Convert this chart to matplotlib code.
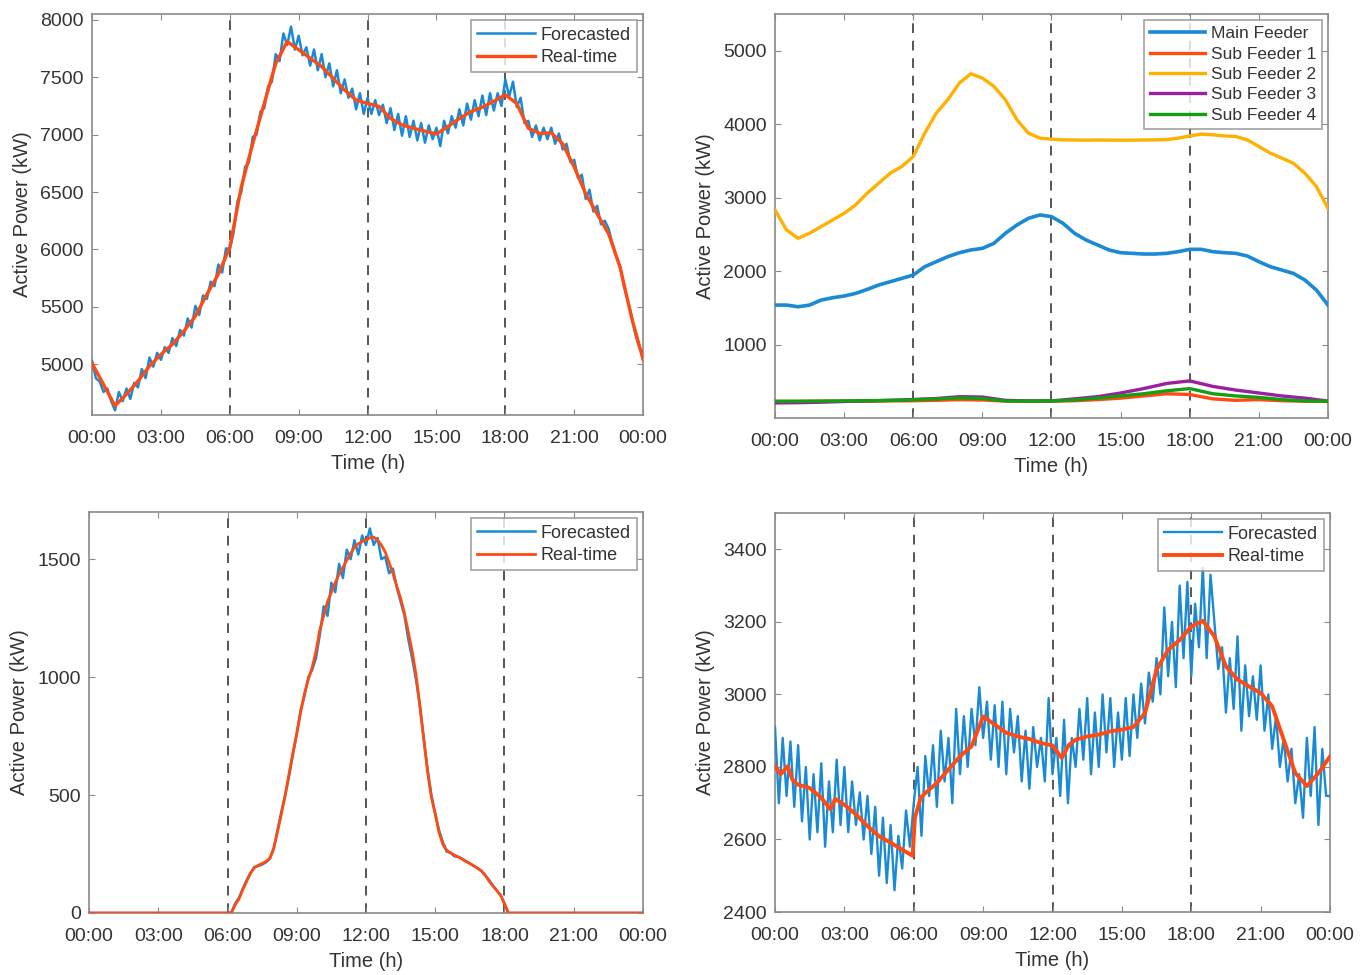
import numpy as np
import matplotlib
matplotlib.use("Agg")
import matplotlib.pyplot as plt

plt.rcParams["font.family"] = ["Liberation Sans", "DejaVu Sans"]

# ── shared x axis ────────────────────────────────────────────────────────────
tick_hours = [0, 3, 6, 9, 12, 15, 18, 21, 24]
tick_labels = ["00:00", "03:00", "06:00", "09:00", "12:00",
               "15:00", "18:00", "21:00", "00:00"]
marker_hours = [6, 12, 18]

t10 = np.arange(145) / 6.0     # 10-minute grid
t30 = np.arange(49) / 2.0      # 30-minute grid
t60 = np.arange(25) * 1.0      # hourly grid

# ── panel 1: total load, forecasted vs real-time ─────────────────────────────
load_forecast = [
    5030, 4880, 4850, 4760, 4790, 4680,
    4600, 4760, 4680, 4790, 4700, 4840,
    4800, 4960, 4880, 5060, 4980, 5100,
    5040, 5150, 5100, 5230, 5160, 5300,
    5250, 5400, 5320, 5510, 5430, 5600,
    5570, 5720, 5680, 5870, 5800, 6010,
    6000, 6150, 6420, 6500, 6720, 6760,
    6980, 7000, 7200, 7230, 7420, 7460,
    7700, 7640, 7880, 7780, 7940, 7740,
    7860, 7690, 7760, 7600, 7740, 7560,
    7700, 7500, 7620, 7420, 7560, 7360,
    7480, 7320, 7400, 7220, 7360, 7180,
    7320, 7180, 7300, 7170, 7260, 7100,
    7230, 7040, 7180, 6990, 7160, 6980,
    7120, 6950, 7100, 6930, 7080, 6960,
    7060, 6900, 7120, 7010, 7160, 7060,
    7220, 7080, 7270, 7130, 7300, 7160,
    7340, 7170, 7360, 7210, 7360, 7250,
    7480, 7330, 7460, 7240, 7320, 7100,
    7120, 6980, 7080, 6950, 7060, 6960,
    7060, 6920, 7010, 6870, 6920, 6760,
    6780, 6620, 6650, 6440, 6520, 6330,
    6380, 6220, 6250, 6180, 6050, 5940,
    5850, 5680, 5560, 5420, 5260, 5150,
    5100,
]
load_realtime = [
    5010, 4825, 4640, 4740, 4855, 4985, 5087, 5175, 5290, 5420,
    5610, 5785, 6020, 6545, 6922, 7272, 7620, 7810, 7738, 7665,
    7592, 7490, 7388, 7300, 7272, 7245, 7140, 7085, 7055, 7030,
    7005, 7070, 7140, 7200, 7238, 7290, 7346, 7270, 7055, 7010,
    7015, 6920, 6718, 6485, 6310, 6136, 5845, 5407, 5043,
]

# ── panel 2: feeder loads ────────────────────────────────────────────────────
main_feeder = [
    1537, 1537, 1514, 1537, 1605, 1637, 1660, 1696, 1750, 1810,
    1855, 1900, 1946, 2059, 2128, 2196, 2250, 2287, 2309, 2377,
    2514, 2627, 2718, 2764, 2741, 2650, 2514, 2423, 2355, 2287,
    2250, 2241, 2232, 2232, 2241, 2264, 2296, 2296, 2264, 2250,
    2241, 2205, 2128, 2059, 2014, 1968, 1878, 1741, 1537,
]
sub_feeder_2 = [
    2832, 2559, 2446, 2514, 2605, 2696, 2787, 2900, 3059, 3196,
    3332, 3423, 3559, 3877, 4150, 4332, 4559, 4686, 4627, 4514,
    4332, 4059, 3877, 3809, 3796, 3786, 3784, 3782, 3784, 3782,
    3782, 3782, 3784, 3786, 3790, 3809, 3840, 3864, 3855, 3840,
    3832, 3786, 3696, 3605, 3537, 3468, 3332, 3150, 2855,
]
sub_feeder_1 = [225, 225, 228, 230, 230, 232, 235, 240, 250, 245, 230, 228, 228,
                235, 250, 270, 300, 330, 320, 260, 240, 250, 235, 228, 225]
sub_feeder_3 = [205, 208, 215, 225, 232, 240, 252, 265, 290, 285, 240, 232, 232,
                260, 290, 340, 400, 470, 505, 430, 380, 340, 300, 270, 230]
sub_feeder_4 = [228, 228, 230, 232, 235, 240, 248, 258, 275, 265, 232, 230, 232,
                245, 270, 300, 330, 370, 400, 330, 300, 280, 250, 232, 228]
feeder_names = ["Main Feeder", "Sub Feeder 1", "Sub Feeder 2",
                "Sub Feeder 3", "Sub Feeder 4"]

# ── panel 3: PV generation (non-zero part, 06:00 - 18:10 on 10-min grid) ─────
pv_forecast_day = [
    0, 3, 40, 65, 105, 140,
    170, 195, 200, 205, 215, 230,
    270, 350, 430, 500, 580, 670,
    760, 860, 920, 1000, 1030, 1080,
    1180, 1300, 1260, 1400, 1360, 1480,
    1420, 1540, 1500, 1580, 1520, 1600,
    1560, 1630, 1560, 1590, 1500, 1510,
    1440, 1460, 1380, 1320, 1260, 1160,
    1080, 990, 880, 740, 610, 500,
    420, 350, 300, 260, 255, 240,
    238, 230, 220, 210, 200, 190,
    178, 160, 140, 115, 95, 75,
    40, 0,
]
pv_realtime_day = [
    0, 0, 35, 60, 100, 135,
    170, 192, 202, 210, 218, 232,
    275, 345, 420, 500, 590, 680,
    760, 850, 930, 990, 1040, 1110,
    1200, 1260, 1320, 1360, 1400, 1435,
    1465, 1495, 1525, 1550, 1565, 1575,
    1582, 1590, 1594, 1580, 1560, 1530,
    1485, 1440, 1385, 1335, 1270, 1190,
    1110, 1010, 880, 740, 600, 490,
    420, 340, 290, 265, 255, 245,
    238, 228, 218, 210, 200, 190,
    178, 160, 135, 115, 95, 75,
    40, 0,
]

# ── panel 4: load with forecast noise ────────────────────────────────────────
net_forecast = [
    2910, 2700, 2880, 2720, 2870, 2690,
    2860, 2650, 2800, 2600, 2780, 2620,
    2810, 2580, 2760, 2620, 2820, 2640,
    2800, 2620, 2760, 2640, 2730, 2600,
    2720, 2560, 2690, 2500, 2660, 2480,
    2640, 2460, 2610, 2520, 2680, 2580,
    2700, 2800, 2610, 2830, 2720, 2860,
    2690, 2900, 2760, 2880, 2700, 2960,
    2780, 2940, 2800, 2960, 2860, 3020,
    2880, 2980, 2820, 2970, 2800, 2980,
    2780, 2960, 2840, 2940, 2760, 2900,
    2740, 2910, 2800, 2880, 2760, 2990,
    2780, 2880, 2720, 2930, 2700, 2880,
    2800, 2960, 2820, 2990, 2780, 2950,
    2800, 3000, 2840, 2990, 2800, 2950,
    2820, 2990, 2830, 3000, 2880, 3030,
    2920, 3060, 2980, 3100, 3000, 3240,
    3050, 3200, 3020, 3300, 3100, 3310,
    3050, 3250, 3130, 3350, 3100, 3330,
    3200, 3070, 3130, 2950, 3100, 2960,
    3160, 2900, 3080, 2940, 3050, 2930,
    3080, 2900, 3000, 2850, 2940, 2800,
    2880, 2760, 2850, 2700, 2780, 2660,
    2880, 2720, 2910, 2640, 2850, 2720,
    2720,
]
net_rt_hours = [
    0, 0.25, 0.55, 0.75, 1, 1.5, 2, 2.4, 2.6, 3,
    3.5, 4, 4.5, 5, 5.5, 5.95, 6.05, 6.3, 6.5, 7,
    7.5, 8, 8.5, 9, 9.5, 10, 10.5, 11, 11.5, 12,
    12.4, 12.7, 13, 13.5, 14, 14.5, 15, 15.5, 16, 16.5,
    17, 17.5, 18, 18.5, 19, 19.5, 20, 20.5, 21, 21.5,
    22, 22.5, 23, 23.5, 24,
]
net_realtime = [
    2802, 2780, 2802, 2765, 2751, 2742, 2715, 2683, 2712, 2696,
    2669, 2637, 2609, 2591, 2572, 2555, 2660, 2715, 2728, 2756,
    2793, 2829, 2857, 2939, 2917, 2894, 2884, 2877, 2866, 2859,
    2825, 2860, 2875, 2884, 2889, 2898, 2903, 2910, 2949, 3068,
    3123, 3150, 3187, 3203, 3160, 3077, 3041, 3022, 3004, 2967,
    2875, 2783, 2747, 2783, 2829,
]

BLUE = "#1a8ad4"
RED = "#ff4a12"
YELLOW = "#ffb000"
PURPLE = "#9b1fa0"
GREEN = "#12a012"
TEXT = "#333333"
SPINE = "#8a8a8a"


def style_axes(ax, ylim, yticks):
    ax.set_xlim(0, 24)
    ax.set_ylim(*ylim)
    ax.set_xticks(tick_hours)
    ax.set_xticklabels(tick_labels)
    ax.set_yticks(yticks)
    ax.tick_params(direction="in", top=True, right=True, length=4,
                   color=SPINE, labelcolor=TEXT, labelsize=14)
    ax.tick_params(axis="x", pad=11)
    ax.tick_params(axis="y", pad=6)
    for sp in ax.spines.values():
        sp.set_color(SPINE)
        sp.set_linewidth(1.2)
    for h in marker_hours:
        ax.axvline(h, color="#555555", lw=1.4, ls=(0, (5, 4)), zorder=1)
    ax.set_xlabel("Time (h)", fontsize=14.5, color=TEXT, labelpad=5)
    ax.set_ylabel("Active Power (kW)", fontsize=14.5, color=TEXT, labelpad=6)


def add_legend(ax, fontsize=13):
    leg = ax.legend(loc="upper right", fontsize=fontsize, frameon=True,
                    fancybox=False, edgecolor=SPINE, handlelength=3.2,
                    handletextpad=0.3, borderaxespad=0.35, borderpad=0.35,
                    labelspacing=0.3)
    leg.get_frame().set_linewidth(1.2)
    for txt in leg.get_texts():
        txt.set_color(TEXT)


fig = plt.figure(figsize=(13.7, 9.75), dpi=100)

ax1 = fig.add_axes([0.0672, 0.5744, 0.4022, 0.4113])
ax2 = fig.add_axes([0.5657, 0.5713, 0.4036, 0.4144])
ax3 = fig.add_axes([0.0650, 0.0636, 0.4043, 0.4113])
ax4 = fig.add_axes([0.5657, 0.0646, 0.4051, 0.4092])

# panel 1
ax1.plot(t10, load_forecast, color=BLUE, lw=1.8, label="Forecasted", zorder=3)
ax1.plot(t30, load_realtime, color=RED, lw=2.4, label="Real-time", zorder=4)
style_axes(ax1, (4560, 8050), range(5000, 8001, 500))
add_legend(ax1)

# panel 2
ax2.plot(t30, main_feeder, color=BLUE, lw=2.6, label=feeder_names[0], zorder=3)
ax2.plot(t60, sub_feeder_1, color=RED, lw=2.4, label=feeder_names[1], zorder=3)
ax2.plot(t30, sub_feeder_2, color=YELLOW, lw=2.4, label=feeder_names[2], zorder=3)
ax2.plot(t60, sub_feeder_3, color=PURPLE, lw=2.4, label=feeder_names[3], zorder=3)
ax2.plot(t60, sub_feeder_4, color=GREEN, lw=2.4, label=feeder_names[4], zorder=3)
style_axes(ax2, (0, 5500), range(1000, 5001, 1000))
leg2_font = 12.5
add_legend(ax2, fontsize=leg2_font)

# panel 3
pv_hours = np.concatenate([[0.0], t10[36:110], [24.0]])
pv_forecast = [0] + pv_forecast_day + [0]
pv_realtime = [0] + pv_realtime_day + [0]
ax3.plot(pv_hours, pv_forecast, color=BLUE, lw=1.8, label="Forecasted", zorder=3)
ax3.plot(pv_hours, pv_realtime, color=RED, lw=2.0, label="Real-time", zorder=4)
style_axes(ax3, (0, 1700), range(0, 1501, 500))
add_legend(ax3)

# panel 4
ax4.plot(t10, net_forecast, color=BLUE, lw=1.7, label="Forecasted", zorder=3)
ax4.plot(net_rt_hours, net_realtime, color=RED, lw=2.8, label="Real-time", zorder=4)
style_axes(ax4, (2400, 3500), range(2400, 3401, 200))
add_legend(ax4)

fig.savefig("out.png", dpi=100)
plt.close(fig)
